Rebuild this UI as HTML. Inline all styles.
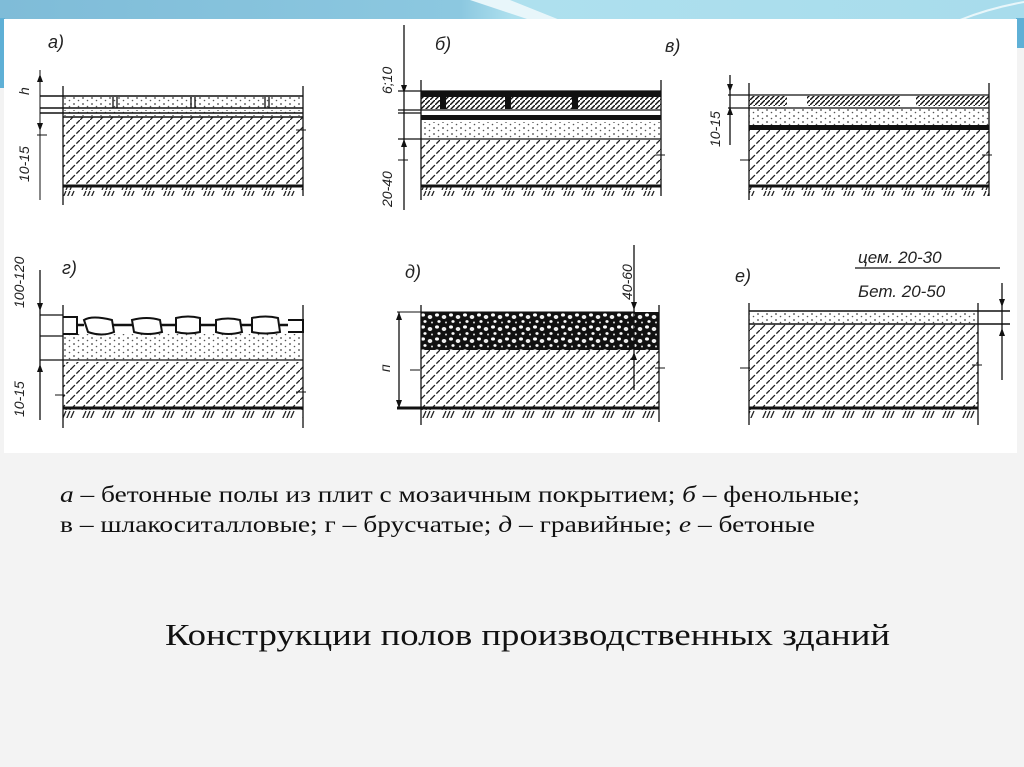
<!DOCTYPE html>
<html><head><meta charset="utf-8"><style>
html,body{margin:0;padding:0;width:1024px;height:767px;overflow:hidden;background:#f3f3f3;}
svg{display:block}
</style></head><body>
<svg width="1024" height="767" viewBox="0 0 1024 767" xmlns="http://www.w3.org/2000/svg">
<defs>
<linearGradient id="tb" x1="0" x2="1" y1="0" y2="0">
<stop offset="0" stop-color="#7fbcd8"/><stop offset="0.45" stop-color="#8cc8e0"/><stop offset="0.5" stop-color="#aee0ee"/><stop offset="1" stop-color="#a8dcec"/></linearGradient>
<pattern id="h" patternUnits="userSpaceOnUse" width="10" height="10"><path d="M0 10L10 0" stroke="#222" stroke-width="1.3" stroke-dasharray="7 2"/></pattern>
<pattern id="hd" patternUnits="userSpaceOnUse" width="5" height="5"><path d="M0 5L5 0" stroke="#111" stroke-width="1.4"/></pattern>
<pattern id="dt" patternUnits="userSpaceOnUse" width="9" height="6"><circle cx="2" cy="2" r="0.9" fill="#444"/><circle cx="6.5" cy="4.5" r="0.8" fill="#555"/></pattern>
<pattern id="gr" patternUnits="userSpaceOnUse" width="20" height="10"><path d="M2 10L6 1M6 10L10 1M10 10L14 1" stroke="#222" stroke-width="1.3"/></pattern>
<pattern id="gv" patternUnits="userSpaceOnUse" width="14" height="12"><rect width="14" height="12" fill="#111"/><ellipse cx="3" cy="3" rx="2" ry="1.6" fill="#fff"/><ellipse cx="10" cy="5" rx="2.3" ry="2" fill="#eee"/><ellipse cx="5" cy="9.5" rx="1.6" ry="1.4" fill="#fff"/><circle cx="12" cy="10.5" r="1" fill="#ddd"/></pattern>
</defs>
<rect width="1024" height="767" fill="#f3f3f3"/>
<rect x="0" y="0" width="1024" height="20" fill="url(#tb)"/>
<path d="M470 0 L510 0 L560 20 L530 20 Z" fill="#e8f6fa"/>
<path d="M960 20 Q990 8 1024 2" stroke="#e8f6fa" stroke-width="2" fill="none"/>
<rect x="0" y="18" width="5" height="70" fill="#5fb0d6"/>
<rect x="1016" y="18" width="8" height="30" fill="#5fb0d6"/>
<rect x="4" y="19" width="1013" height="434" fill="#fff"/>

<g font-family="Liberation Sans, sans-serif" font-style="italic" fill="#222" font-size="18">
<text x="48" y="48">а)</text><text x="435" y="50">б)</text><text x="665" y="52">в)</text>
<text x="62" y="274">г)</text><text x="405" y="278">д)</text><text x="735" y="282">е)</text>
</g>

<g stroke="#111" fill="none">
<rect x="63" y="117" width="240" height="69" fill="url(#h)" stroke="none"/>
<rect x="63" y="97" width="240" height="11" fill="url(#dt)" stroke="none"/>
<rect x="63" y="110" width="240" height="6" fill="url(#dt)" stroke="none"/>
<path d="M40 96H303M40 108H303M40 113H303M63 117H303" stroke-width="1.5"/>
<path d="M63 186H303" stroke-width="3"/>
<rect x="63" y="187" width="240" height="9" fill="url(#gr)" stroke="none"/>
<path d="M63 86V205M303 86V196M113 97V108M117 97V108M191 97V108M195 97V108M265 97V108M269 97V108" stroke-width="1.3"/>
<path d="M40 70V200"/><path d="M37 135h10M296 130h10"/>
<rect x="421" y="140" width="240" height="46" fill="url(#h)" stroke="none"/>
<rect x="421" y="91" width="240" height="6" fill="#111" stroke="none"/>
<rect x="421" y="97" width="240" height="12" fill="url(#hd)" stroke="none"/>
<rect x="440" y="96" width="6" height="13" fill="#111" stroke="none"/><rect x="505" y="96" width="6" height="13" fill="#111" stroke="none"/><rect x="572" y="96" width="6" height="13" fill="#111" stroke="none"/>
<rect x="421" y="115" width="240" height="5" fill="#111" stroke="none"/>
<rect x="421" y="122" width="240" height="16" fill="url(#dt)" stroke="none"/>
<path d="M398 91H661M398 110H661M398 113H421M398 139H661" stroke-width="1.3"/>
<path d="M421 186H661" stroke-width="3"/>
<rect x="421" y="187" width="240" height="9" fill="url(#gr)" stroke="none"/>
<path d="M421 80V200M661 80V196M404 25V210" stroke-width="1.3"/><path d="M398 160h10M655 155h10"/>
<rect x="749" y="130" width="240" height="56" fill="url(#h)" stroke="none"/>
<rect x="749" y="96" width="240" height="10" fill="url(#hd)" stroke="none"/>
<rect x="787" y="96" width="20" height="10" fill="#fff" stroke="none"/><rect x="900" y="96" width="16" height="10" fill="#fff" stroke="none"/>
<rect x="749" y="108" width="240" height="17" fill="url(#dt)" stroke="none"/>
<rect x="749" y="125" width="240" height="5" fill="#111" stroke="none"/>
<path d="M728 95H989M728 108H989" stroke-width="1.3"/>
<path d="M749 186H989" stroke-width="3"/>
<rect x="749" y="187" width="240" height="9" fill="url(#gr)" stroke="none"/>
<path d="M749 83V200M989 83V196M730 75V145" stroke-width="1.3"/><path d="M740 160h10M982 155h10"/>
<rect x="63" y="362" width="240" height="46" fill="url(#h)" stroke="none"/>
<rect x="63" y="334" width="240" height="26" fill="url(#dt)" stroke="none"/>
<path d="M63 317h14v17h-14M84 320q8-5 28 0l2 12q-12 5-26 0zM132 320q15-4 28 0l2 12q-14 4-28 0zM176 318q12-3 24 0v14q-12 3-24 0zM216 320q12-3 24 0l2 12q-14 4-26 0zM252 318q14-3 26 0l2 14q-14 3-28 0zM288 320h15v12h-15" stroke-width="2"/>
<path d="M77 325H84M112 325H132M160 325H176M200 325H216M240 325H252M280 325H288" stroke-width="2.5"/>
<path d="M40 315H63M40 336H63M40 360H303" stroke-width="1.3"/>
<path d="M63 408H303" stroke-width="3"/>
<rect x="63" y="409" width="240" height="9" fill="url(#gr)" stroke="none"/>
<path d="M63 305V428M303 305V428M40 270V420" stroke-width="1.3"/><path d="M55 395h10M296 392h10"/>
<rect x="421" y="350" width="238" height="58" fill="url(#h)" stroke="none"/>
<rect x="421" y="312" width="238" height="38" fill="url(#gv)" stroke="none"/>
<path d="M397 312H635M612 349H635"/>
<path d="M397 408H659" stroke-width="3"/>
<rect x="421" y="409" width="238" height="9" fill="url(#gr)" stroke="none"/>
<path d="M421 305V425M659 305V422M399 312V408M634 245V390" stroke-width="1.3"/><path d="M410 370h10M655 368h10"/>
<rect x="749" y="324" width="229" height="84" fill="url(#h)" stroke="none"/>
<rect x="749" y="312" width="229" height="12" fill="url(#dt)" stroke="none"/>
<path d="M749 311H1010M749 324H1010" stroke-width="1.5"/>
<path d="M749 408H978" stroke-width="3"/>
<rect x="749" y="409" width="229" height="9" fill="url(#gr)" stroke="none"/>
<path d="M749 303V425M978 303V425M1002 283V380M855 268H1000" stroke-width="1.3"/><path d="M740 368h10M972 365h10"/>
</g>
<g fill="#111">
<path d="M37 82l3 -8 3 8zM37 123l3 8 3-8zM401 85l3 8 3-8zM401 147l3-8 3 8zM727 84l3 8 3-8zM727 115l3-8 3 8zM37 303l3 8 3-8zM37 372l3-8 3 8zM396 320l3-8 3 8zM396 400l3 8 3-8zM631 302l3 8 3-8zM631 360l3-8 3 8zM999 299l3 8 3-8zM999 336l3-8 3 8z"/>
</g>
<g font-family="Liberation Sans, sans-serif" font-style="italic" fill="#222" font-size="14">
<text transform="translate(29,95) rotate(-90)">h</text>
<text transform="translate(29,182) rotate(-90)">10-15</text>
<text transform="translate(392,94) rotate(-90)">6;10</text>
<text transform="translate(392,207) rotate(-90)">20-40</text>
<text transform="translate(720,147) rotate(-90)">10-15</text>
<text transform="translate(24,308) rotate(-90)">100-120</text>
<text transform="translate(24,417) rotate(-90)">10-15</text>
<text transform="translate(390,372) rotate(-90)">п</text>
<text transform="translate(632,300) rotate(-90)">40-60</text>
<text x="858" y="263" font-size="17">цем. 20-30</text>
<text x="858" y="297" font-size="17">Бет. 20-50</text>
</g>
<g font-family="Liberation Serif, serif" fill="#111">
<text x="60" y="502" font-size="23" textLength="800" lengthAdjust="spacingAndGlyphs"><tspan font-style="italic">а</tspan> – бетонные полы из плит с мозаичным покрытием; <tspan font-style="italic">б</tspan> – фенольные;</text>
<text x="60" y="532" font-size="23" textLength="755" lengthAdjust="spacingAndGlyphs">в –  шлакоситалловые; г – брусчатые; <tspan font-style="italic">д</tspan> – гравийные; <tspan font-style="italic">е</tspan> – бетоные</text>
<text x="165" y="645" font-size="31" textLength="725" lengthAdjust="spacingAndGlyphs">Конструкции полов производственных зданий</text>
</g>
</svg>
</body></html>
